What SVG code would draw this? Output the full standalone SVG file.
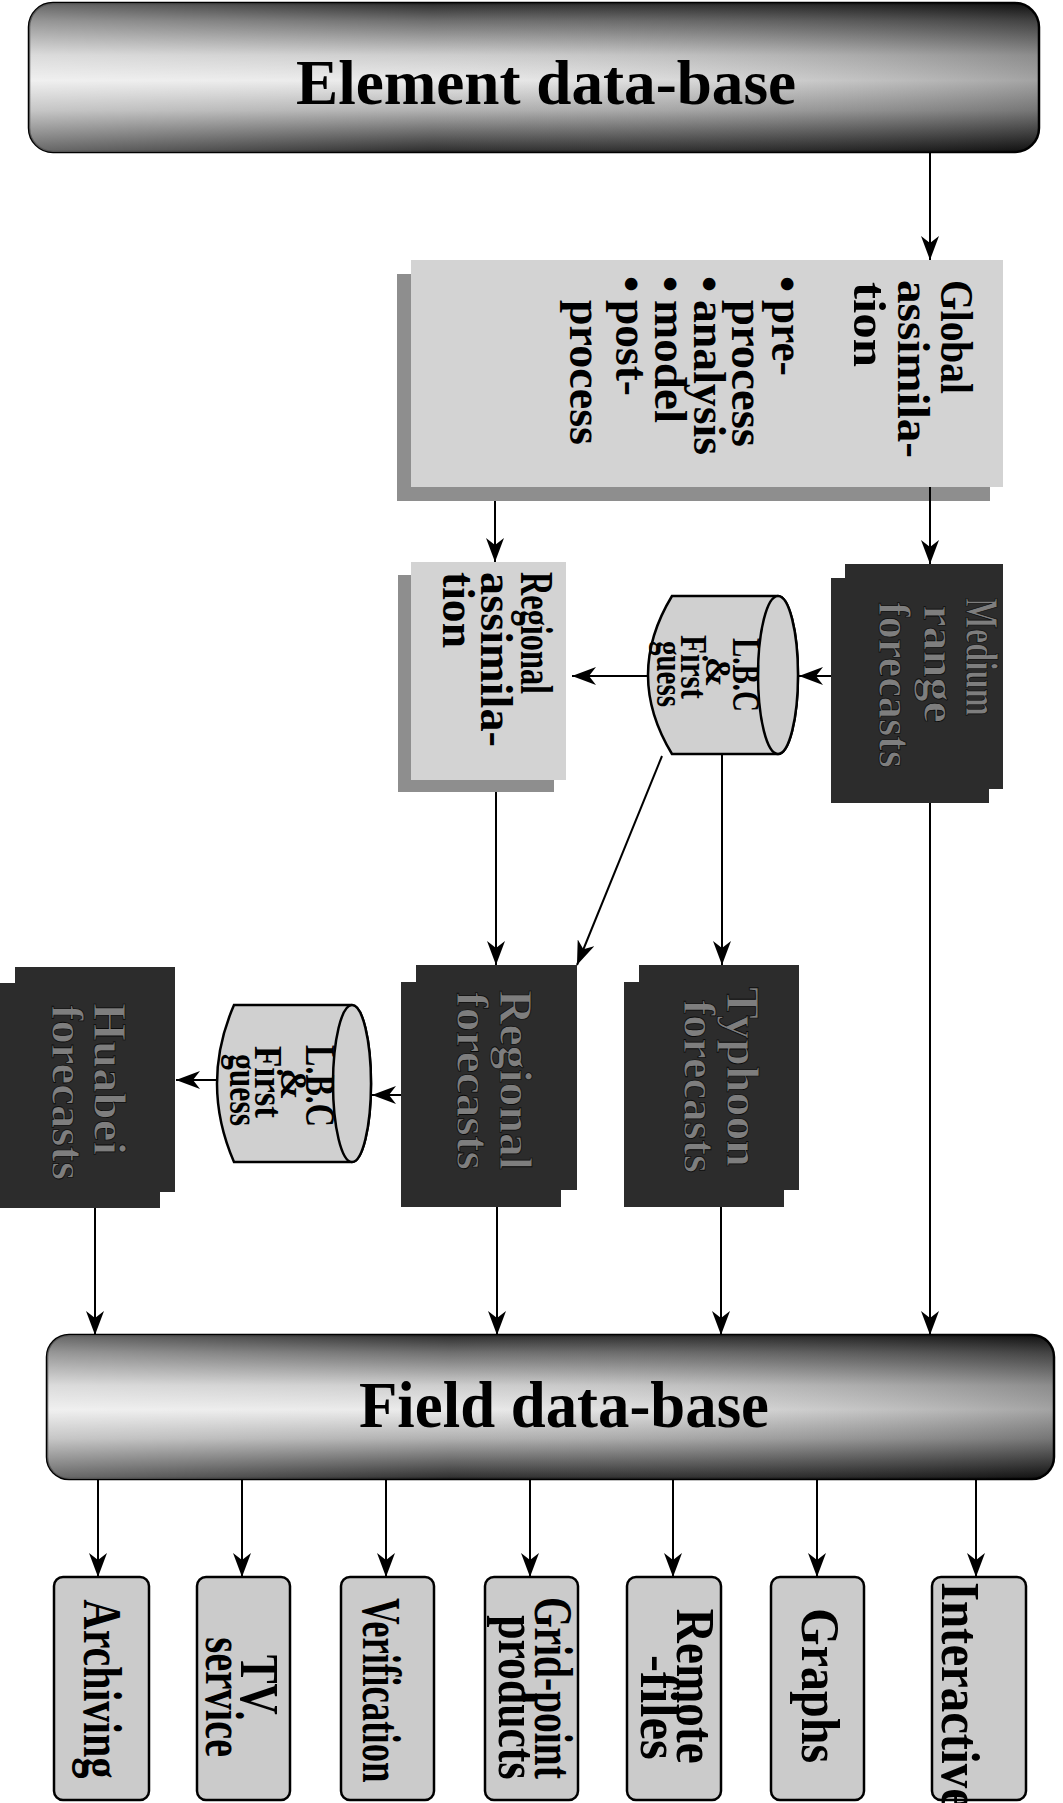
<svg xmlns="http://www.w3.org/2000/svg" width="1063" height="1803" viewBox="0 0 1063 1803">
<defs>
<style>
.t{font-family:"Liberation Serif","Times New Roman",serif;font-weight:bold;fill:#000}
.dk{font-family:"Liberation Serif","Times New Roman",serif;font-weight:bold;fill:#7e7e7e;stroke:#0a0a0a;stroke-width:0.8}
.lt{fill:#d3d3d3}
.sh{fill:#8e8e8e}
.db{fill:#2c2c2c}
.cyl{fill:#d0d0d0;stroke:#000;stroke-width:2.5}
.out{fill:#cbcbcb;stroke:#000;stroke-width:2.5}
.ln{stroke:#000;stroke-width:2;fill:none;marker-end:url(#ah)}
</style>
<marker id="ah" viewBox="0 0 24 18" refX="24" refY="9" markerWidth="24" markerHeight="18" markerUnits="userSpaceOnUse" orient="auto">
<path d="M0,0 L24,9 L0,18 L7,9 Z" fill="#000"/>
</marker>
<linearGradient id="gv" x1="0" y1="0" x2="0" y2="1">
<stop offset="0" stop-color="#151515"/>
<stop offset="0.12" stop-color="#5e5e5e"/>
<stop offset="0.35" stop-color="#c8c8c8"/>
<stop offset="0.52" stop-color="#e8e8e8"/>
<stop offset="0.72" stop-color="#a8a8a8"/>
<stop offset="0.9" stop-color="#4a4a4a"/>
<stop offset="1" stop-color="#151515"/>
</linearGradient>
<linearGradient id="gh" x1="0" y1="0" x2="1" y2="0">
<stop offset="0" stop-color="#fff" stop-opacity="0.35"/>
<stop offset="0.4" stop-color="#fff" stop-opacity="0.1"/>
<stop offset="1" stop-color="#000" stop-opacity="0.3"/>
</linearGradient>
</defs>

<g id="element-db">
<rect x="29" y="3" width="1010" height="149" rx="24" fill="url(#gv)" stroke="#000" stroke-width="2.5"/>
<rect x="29" y="3" width="1010" height="149" rx="24" fill="url(#gh)"/>
<text class="t" x="546" y="104" font-size="64" text-anchor="middle" textLength="500" lengthAdjust="spacingAndGlyphs">Element data-base</text>
</g>

<g id="global-assimilation">
<rect class="sh" x="397" y="274" width="593" height="227"/>
<rect class="lt" x="411" y="260" width="592" height="227"/>
<g transform="rotate(90)">
<text class="t" font-size="46" x="280" y="-941" textLength="114" lengthAdjust="spacingAndGlyphs">Global</text>
<text class="t" font-size="46" x="280" y="-898" textLength="178" lengthAdjust="spacingAndGlyphs">assimila-</text>
<text class="t" font-size="46" x="282" y="-854" textLength="85" lengthAdjust="spacingAndGlyphs">tion</text>
<text class="t" font-size="46" x="276" y="-772">•</text>
<text class="t" font-size="46" x="300" y="-772" textLength="76" lengthAdjust="spacingAndGlyphs">pre-</text>
<text class="t" font-size="46" x="300" y="-732" textLength="147" lengthAdjust="spacingAndGlyphs">process</text>
<text class="t" font-size="46" x="276" y="-694">•</text>
<text class="t" font-size="46" x="300" y="-694" textLength="155" lengthAdjust="spacingAndGlyphs">analysis</text>
<text class="t" font-size="46" x="276" y="-655">•</text>
<text class="t" font-size="46" x="300" y="-655" textLength="123" lengthAdjust="spacingAndGlyphs">model</text>
<text class="t" font-size="46" x="276" y="-616">•</text>
<text class="t" font-size="46" x="300" y="-616" textLength="96" lengthAdjust="spacingAndGlyphs">post-</text>
<text class="t" font-size="46" x="300" y="-570" textLength="145" lengthAdjust="spacingAndGlyphs">process</text>
</g>
</g>

<g id="medium-range">
<rect class="db" x="845" y="564" width="158" height="225"/>
<rect class="db" x="831" y="578" width="158" height="225"/>
<g transform="rotate(90)">
<text class="dk" font-size="46" x="598" y="-966" textLength="118" lengthAdjust="spacingAndGlyphs">Medium</text>
<text class="dk" font-size="46" x="605" y="-924" textLength="118" lengthAdjust="spacingAndGlyphs">range</text>
<text class="dk" font-size="46" x="602" y="-879" textLength="166" lengthAdjust="spacingAndGlyphs">forecasts</text>
</g>
</g>

<g id="lbc-1">
<path class="cyl" d="M672,596 L778,596 A20,79 0 0 1 778,754 L672,754 Q624,675 672,596 Z"/>
<ellipse class="cyl" cx="778" cy="675" rx="20" ry="79"/>
<g transform="rotate(90)">
<text class="t" font-size="40" x="675" y="-733" text-anchor="middle" textLength="74" lengthAdjust="spacingAndGlyphs">L.B.C</text>
<text class="t" font-size="36" x="672" y="-706" text-anchor="middle">&amp;</text>
<text class="t" font-size="37" x="667" y="-681" text-anchor="middle" textLength="64" lengthAdjust="spacingAndGlyphs">First</text>
<text class="t" font-size="37" x="674" y="-657" text-anchor="middle" textLength="66" lengthAdjust="spacingAndGlyphs">guess</text>
</g>
</g>

<g id="regional-assimilation">
<rect class="sh" x="398" y="575" width="156" height="217"/>
<rect class="lt" x="411" y="562" width="155" height="218"/>
<g transform="rotate(90)">
<text class="t" font-size="46" x="572" y="-521" textLength="122" lengthAdjust="spacingAndGlyphs">Regional</text>
<text class="t" font-size="46" x="572" y="-481" textLength="175" lengthAdjust="spacingAndGlyphs">assimila-</text>
<text class="t" font-size="46" x="572" y="-443" textLength="76" lengthAdjust="spacingAndGlyphs">tion</text>
</g>
</g>

<g id="typhoon-forecasts">
<rect class="db" x="639" y="965" width="160" height="225"/>
<rect class="db" x="624" y="982" width="160" height="225"/>
<g transform="rotate(90)">
<text class="dk" font-size="46" x="987" y="-727" textLength="180" lengthAdjust="spacingAndGlyphs">Typhoon</text>
<text class="dk" font-size="46" x="1000" y="-684" textLength="173" lengthAdjust="spacingAndGlyphs">forecasts</text>
</g>
</g>

<g id="regional-forecasts">
<rect class="db" x="416" y="965" width="161" height="225"/>
<rect class="db" x="401" y="982" width="160" height="225"/>
<g transform="rotate(90)">
<text class="dk" font-size="46" x="990" y="-500" textLength="180" lengthAdjust="spacingAndGlyphs">Regional</text>
<text class="dk" font-size="46" x="992" y="-457" textLength="178" lengthAdjust="spacingAndGlyphs">forecasts</text>
</g>
</g>

<g id="lbc-2">
<path class="cyl" d="M234,1005 L352,1005 A19,78.5 0 0 1 352,1162 L234,1162 Q200,1083.5 234,1005 Z"/>
<ellipse class="cyl" cx="352" cy="1083.5" rx="19" ry="78.5"/>
<g transform="rotate(90)">
<text class="t" font-size="42" x="1086" y="-306" text-anchor="middle" textLength="82" lengthAdjust="spacingAndGlyphs">L.B.C</text>
<text class="t" font-size="38" x="1084" y="-281" text-anchor="middle">&amp;</text>
<text class="t" font-size="39" x="1082" y="-255" text-anchor="middle" textLength="72" lengthAdjust="spacingAndGlyphs">First</text>
<text class="t" font-size="39" x="1090" y="-230" text-anchor="middle" textLength="72" lengthAdjust="spacingAndGlyphs">guess</text>
</g>
</g>

<g id="huabei-forecasts">
<rect class="db" x="15" y="967" width="160" height="225"/>
<rect class="db" x="0" y="983" width="160" height="225"/>
<g transform="rotate(90)">
<text class="dk" font-size="46" x="1003" y="-94" textLength="152" lengthAdjust="spacingAndGlyphs">Huabei</text>
<text class="dk" font-size="46" x="1005" y="-52" textLength="175" lengthAdjust="spacingAndGlyphs">forecasts</text>
</g>
</g>

<g id="field-db">
<rect x="47" y="1335" width="1007" height="144" rx="22" fill="url(#gv)" stroke="#000" stroke-width="2.5"/>
<rect x="47" y="1335" width="1007" height="144" rx="22" fill="url(#gh)"/>
<text class="t" x="564" y="1427" font-size="66" text-anchor="middle" textLength="410" lengthAdjust="spacingAndGlyphs">Field data-base</text>
</g>

<g id="archiving"><rect class="out" x="54" y="1577" width="95" height="223" rx="9"/>
<text class="t" font-size="54" transform="rotate(90) scale(0.779,1)" x="2168" y="-84" text-anchor="middle">Archiving</text></g>
<g id="tv-service"><rect class="out" x="197" y="1577" width="93" height="223" rx="9"/>
<text class="t" font-size="54" transform="rotate(90) scale(0.8,1)" x="2106" y="-241" text-anchor="middle">TV</text>
<text class="t" font-size="54" transform="rotate(90) scale(0.755,1)" x="2248" y="-206" text-anchor="middle">service</text>
</g>
<g id="verification"><rect class="out" x="341" y="1577" width="93" height="223" rx="9"/>
<text class="t" font-size="54" transform="rotate(90) scale(0.681,1)" x="2482" y="-363" text-anchor="middle">Verification</text></g>
<g id="grid-point"><rect class="out" x="485" y="1577" width="93" height="223" rx="9"/>
<text class="t" font-size="54" transform="rotate(90) scale(0.731,1)" x="2309" y="-535" text-anchor="middle">Grid-point</text>
<text class="t" font-size="54" transform="rotate(90) scale(0.809,1)" x="2098" y="-499" text-anchor="middle">products</text>
</g>
<g id="remote-files"><rect class="out" x="627" y="1577" width="94" height="223" rx="9"/>
<text class="t" font-size="54" transform="rotate(90) scale(0.876,1)" x="1925" y="-677" text-anchor="middle">Remote</text>
<text class="t" font-size="54" transform="rotate(90) scale(0.946,1)" x="1805" y="-641" text-anchor="middle">-files</text>
</g>
<g id="graphs"><rect class="out" x="771" y="1577" width="93" height="223" rx="9"/>
<text class="t" font-size="54" transform="rotate(90) scale(0.891,1)" x="1892" y="-802" text-anchor="middle">Graphs</text></g>
<g id="interactive"><rect class="out" x="932" y="1577" width="94" height="223" rx="9"/>
<text class="t" font-size="54" transform="rotate(90) scale(0.905,1)" x="1748" y="-942">Interactive</text></g>

<g id="connectors">
<line class="ln" x1="930" y1="152" x2="930" y2="260"/>
<line class="ln" x1="930" y1="487" x2="930" y2="564"/>
<line class="ln" x1="495" y1="501" x2="495" y2="562"/>
<line class="ln" x1="831" y1="676" x2="799" y2="676"/>
<line class="ln" x1="649" y1="676" x2="572" y2="676"/>
<line class="ln" x1="722" y1="754" x2="722" y2="965"/>
<line class="ln" x1="662" y1="756" x2="577" y2="965"/>
<line class="ln" x1="496" y1="792" x2="496" y2="965"/>
<line class="ln" x1="930" y1="803" x2="930" y2="1335"/>
<line class="ln" x1="721" y1="1207" x2="721" y2="1335"/>
<line class="ln" x1="497" y1="1207" x2="497" y2="1335"/>
<line class="ln" x1="95" y1="1208" x2="95" y2="1335"/>
<line class="ln" x1="401" y1="1095" x2="372" y2="1095"/>
<line class="ln" x1="217" y1="1080" x2="176" y2="1080"/>
<line class="ln" x1="98" y1="1479" x2="98" y2="1577"/>
<line class="ln" x1="242" y1="1479" x2="242" y2="1577"/>
<line class="ln" x1="386" y1="1479" x2="386" y2="1577"/>
<line class="ln" x1="530" y1="1479" x2="530" y2="1577"/>
<line class="ln" x1="673" y1="1479" x2="673" y2="1577"/>
<line class="ln" x1="817" y1="1479" x2="817" y2="1577"/>
<line class="ln" x1="976" y1="1479" x2="976" y2="1577"/>
</g>
</svg>
